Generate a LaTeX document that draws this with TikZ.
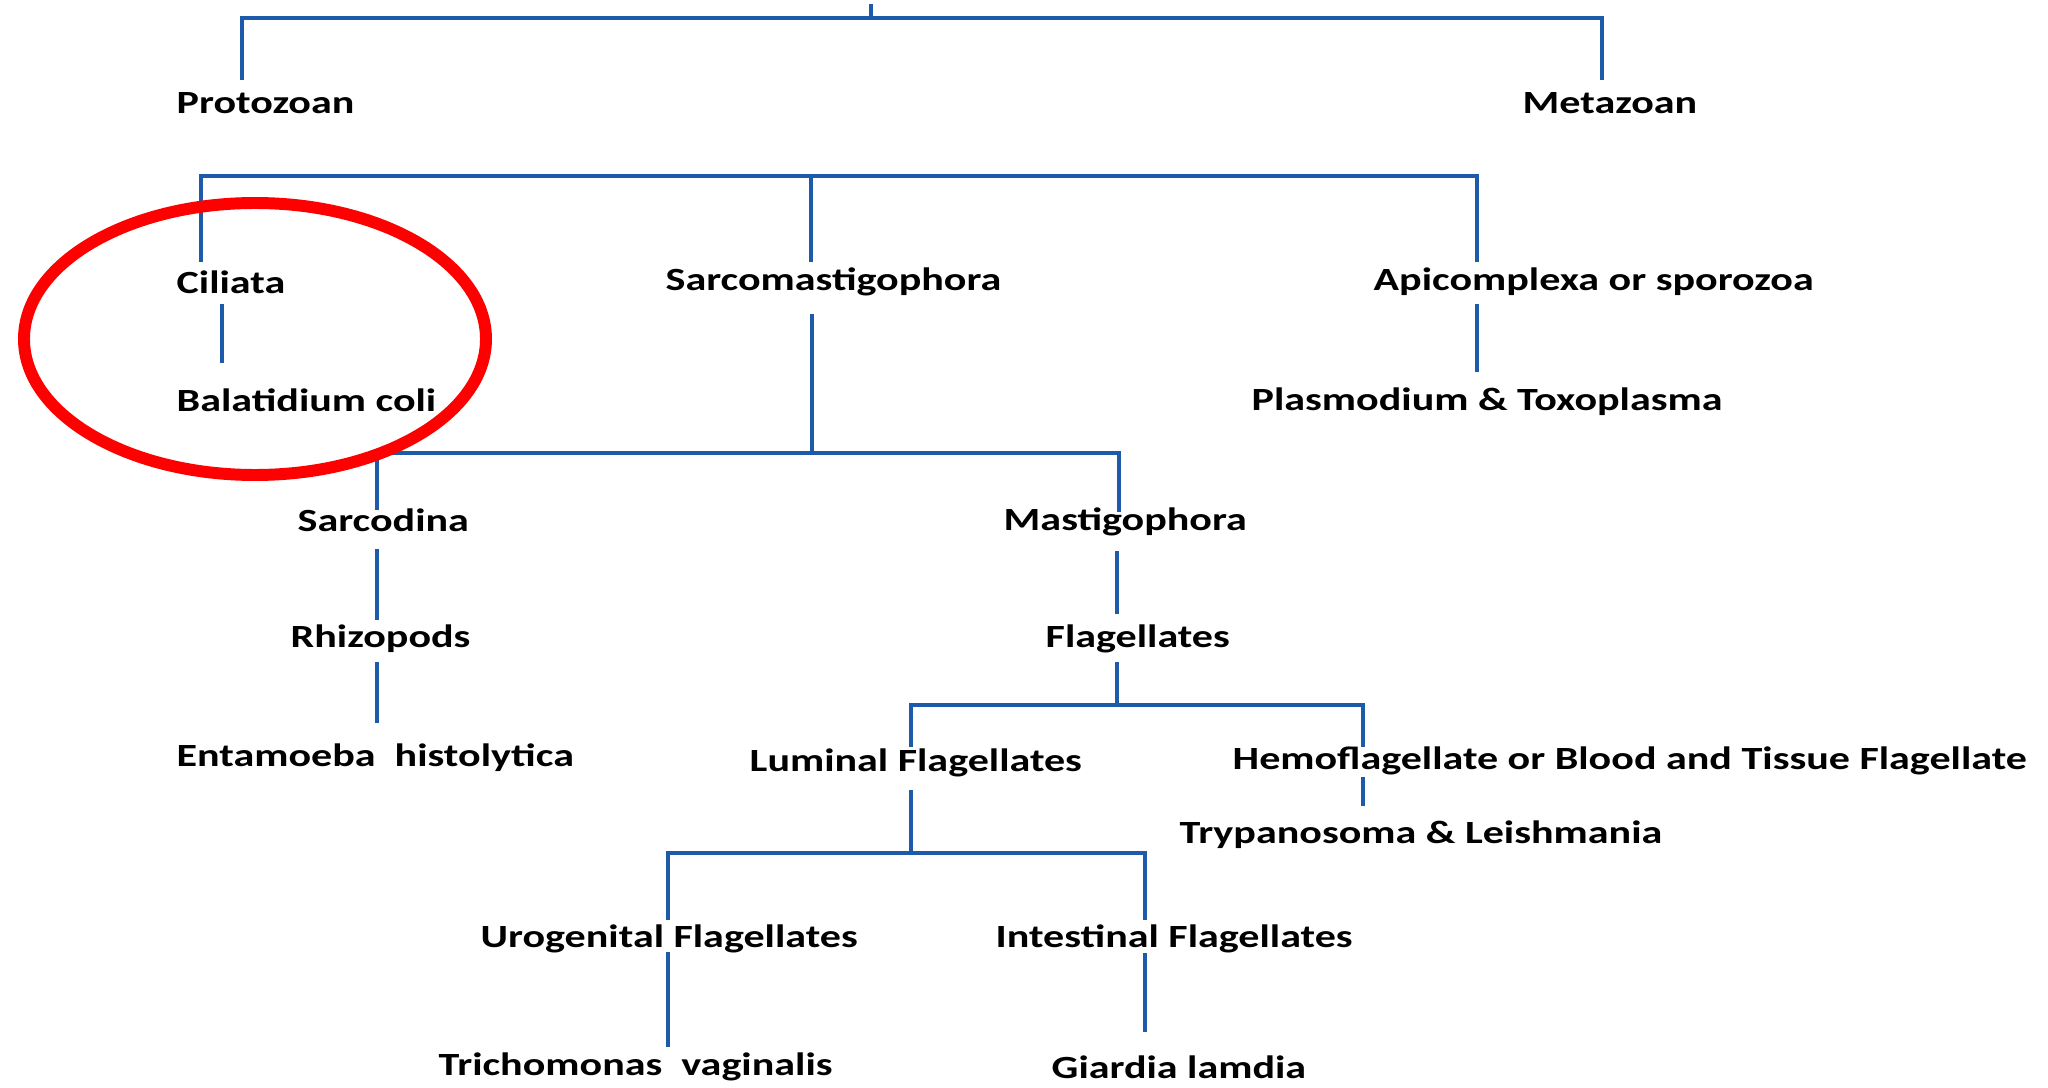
\documentclass[tikz,border=0pt]{standalone}
\usepackage{fontspec}
\setmainfont{Carlito}[FakeStretch=1.3]

\definecolor{treeblue}{RGB}{30,90,170}
\definecolor{markred}{RGB}{255,0,0}

\begin{document}
\begin{tikzpicture}[
  x=0.01cm, y=-0.01cm,
  taxon/.style={anchor=west, inner sep=0pt, font=\fontsize{9.2}{10}\selectfont\bfseries},
  link/.style={draw=treeblue, line width=1.2pt},
  ring/.style={draw=markred, line width=3.4pt}
]
\useasboundingbox (0,0) rectangle (2048,1088);

%% -- Taxa --------------------------------------------------------------------
\node[taxon] (proto)  at (176,103)  {Protozoan};
\node[taxon] (meta)   at (1522,103) {Metazoan};
\node[taxon] (cil)    at (176,282)  {Ciliata};
\node[taxon] (sarcom) at (665,282)  {Sarcomastigophora};
\node[taxon] (api)    at (1373,282) {Apicomplexa or sporozoa};
\node[taxon] (bal)    at (176,400)  {Balatidium coli};
\node[taxon] (plas)   at (1251,402) {Plasmodium \& Toxoplasma};
\node[taxon] (sarcod) at (297,520)  {Sarcodina};
\node[taxon] (mast)   at (1003,522) {Mastigophora};
\node[taxon] (rhiz)   at (290,639)  {Rhizopods};
\node[taxon] (flag)   at (1045,639) {Flagellates};
\node[taxon] (ent)    at (176,758)  {Entamoeba\ \ histolytica};
\node[taxon] (lum)    at (749,763)  {Luminal Flagellates};
\node[taxon] (hemo)   at (1232,761) {Hemoflagellate or Blood and Tissue Flagellate};
\node[taxon] (tryp)   at (1179,835) {Trypanosoma \& Leishmania};
\node[taxon] (uro)    at (480,939)  {Urogenital Flagellates};
\node[taxon] (int)    at (995,939)  {Intestinal Flagellates};
\node[taxon] (trich)  at (438,1067) {Trichomonas\ \ vaginalis};
\node[taxon] (giar)   at (1051,1067){Giardia lamdia};

%% -- Junctions and stub ends -------------------------------------------------
\coordinate (root)    at (871,4);
\coordinate (bar0)    at (871,18);
\coordinate (protoIn) at (242,80);
\coordinate (metaIn)  at (1602,80);

\coordinate (bar1)     at (811,176);
\coordinate (cilIn)    at (201,262);
\coordinate (sarcomIn) at (811,262);
\coordinate (apiIn)    at (1477,262);

\coordinate (cilOut)  at (222,304);
\coordinate (balIn)   at (222,363);
\coordinate (apiOut)  at (1477,304);
\coordinate (plasIn)  at (1477,372);

\coordinate (sarcomOut) at (812,314);
\coordinate (bar2)      at (812,453);
\coordinate (sarcodIn)  at (377,510);
\coordinate (mastIn)    at (1119,512);

\coordinate (sarcodOut) at (377,549);
\coordinate (rhizIn)    at (377,620);
\coordinate (rhizOut)   at (377,662);
\coordinate (entIn)     at (377,723);

\coordinate (mastOut) at (1117,551);
\coordinate (flagIn)  at (1117,614);
\coordinate (flagOut) at (1117,662);
\coordinate (bar3)    at (1117,705);
\coordinate (lumIn)   at (911,747);
\coordinate (hemoIn)  at (1363,747);
\coordinate (hemoOut) at (1363,777);
\coordinate (trypIn)  at (1363,806);

\coordinate (lumOut)  at (911,790);
\coordinate (bar4)    at (911,853);
\coordinate (uroIn)   at (668,920);
\coordinate (intIn)   at (1145,920);
\coordinate (uroOut)  at (668,952);
\coordinate (trichIn) at (668,1047);
\coordinate (intOut)  at (1145,953);
\coordinate (giarIn)  at (1145,1032);

%% -- Tree lines --------------------------------------------------------------
\draw[link] (root) -- (bar0);
\draw[link] (protoIn) |- (bar0) -| (metaIn);

\draw[link] (cilIn) |- (bar1) -| (apiIn);
\draw[link] (bar1) -- (sarcomIn);
\draw[link] (cilOut) -- (balIn);
\draw[link] (apiOut) -- (plasIn);

\draw[link] (sarcomOut) -- (bar2);
\draw[link] (sarcodIn) |- (bar2) -| (mastIn);
\draw[link] (sarcodOut) -- (rhizIn);
\draw[link] (rhizOut) -- (entIn);

\draw[link] (mastOut) -- (flagIn);
\draw[link] (flagOut) -- (bar3);
\draw[link] (lumIn) |- (bar3) -| (hemoIn);
\draw[link] (hemoOut) -- (trypIn);

\draw[link] (lumOut) -- (bar4);
\draw[link] (uroIn) |- (bar4) -| (intIn);
\draw[link] (uroOut) -- (trichIn);
\draw[link] (intOut) -- (giarIn);

% highlight round Ciliata
\draw[ring] (255,339) ellipse [x radius=231, y radius=136];

\end{tikzpicture}
\end{document}
